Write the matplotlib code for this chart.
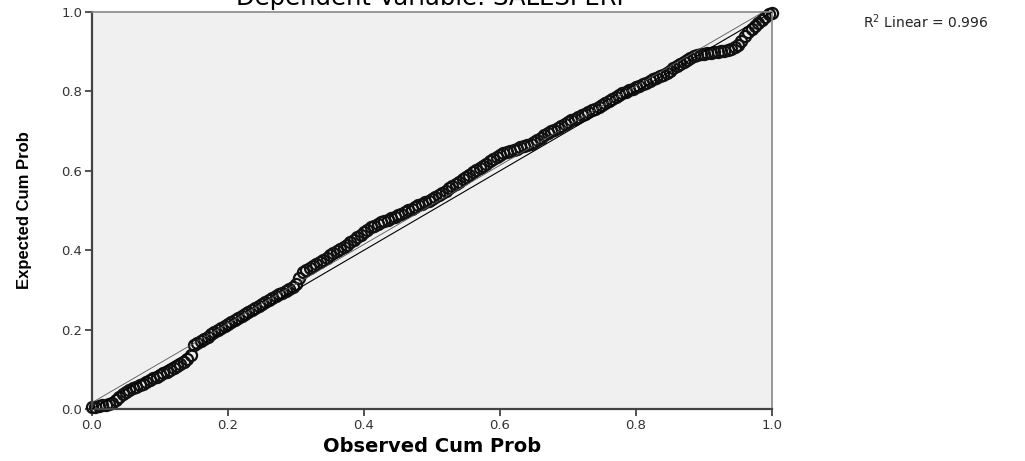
import matplotlib
matplotlib.use("Agg")
import matplotlib.pyplot as plt
import numpy as np

# P-P 플롯 데이터
observed_cum_prob = [
    0.000, 0.005, 0.010, 0.015, 0.020, 0.025, 0.030, 0.035, 0.040, 0.045,
    0.050, 0.055, 0.060, 0.065, 0.070, 0.075, 0.080, 0.085, 0.090, 0.095,
    0.100, 0.105, 0.110, 0.115, 0.120, 0.125, 0.130, 0.135, 0.140, 0.145,
    0.150, 0.155, 0.160, 0.165, 0.170, 0.175, 0.180, 0.185, 0.190, 0.195,
    0.200, 0.205, 0.210, 0.215, 0.220, 0.225, 0.230, 0.235, 0.240, 0.245,
    0.250, 0.255, 0.260, 0.265, 0.270, 0.275, 0.280, 0.285, 0.290, 0.295,
    0.300, 0.305, 0.310, 0.315, 0.320, 0.325, 0.330, 0.335, 0.340, 0.345,
    0.350, 0.355, 0.360, 0.365, 0.370, 0.375, 0.380, 0.385, 0.390, 0.395,
    0.400, 0.405, 0.410, 0.415, 0.420, 0.425, 0.430, 0.435, 0.440, 0.445,
    0.450, 0.455, 0.460, 0.465, 0.470, 0.475, 0.480, 0.485, 0.490, 0.495,
    0.500, 0.505, 0.510, 0.515, 0.520, 0.525, 0.530, 0.535, 0.540, 0.545,
    0.550, 0.555, 0.560, 0.565, 0.570, 0.575, 0.580, 0.585, 0.590, 0.595,
    0.600, 0.605, 0.610, 0.615, 0.620, 0.625, 0.630, 0.635, 0.640, 0.645,
    0.650, 0.655, 0.660, 0.665, 0.670, 0.675, 0.680, 0.685, 0.690, 0.695,
    0.700, 0.705, 0.710, 0.715, 0.720, 0.725, 0.730, 0.735, 0.740, 0.745,
    0.750, 0.755, 0.760, 0.765, 0.770, 0.775, 0.780, 0.785, 0.790, 0.795,
    0.800, 0.805, 0.810, 0.815, 0.820, 0.825, 0.830, 0.835, 0.840, 0.845,
    0.850, 0.855, 0.860, 0.865, 0.870, 0.875, 0.880, 0.885, 0.890, 0.895,
    0.900, 0.905, 0.910, 0.915, 0.920, 0.925, 0.930, 0.935, 0.940, 0.945,
    0.950, 0.955, 0.960, 0.965, 0.970, 0.975, 0.980, 0.985, 0.990, 0.995,
    1.000,
]
expected_cum_prob = [
    0.005, 0.006, 0.008, 0.009, 0.010, 0.012, 0.015, 0.022, 0.030, 0.038,
    0.043, 0.048, 0.052, 0.056, 0.060, 0.064, 0.068, 0.073, 0.077, 0.081,
    0.085, 0.090, 0.094, 0.098, 0.103, 0.108, 0.113, 0.118, 0.125, 0.135,
    0.160, 0.167, 0.172, 0.177, 0.182, 0.188, 0.193, 0.199, 0.204, 0.209,
    0.214, 0.219, 0.224, 0.229, 0.234, 0.240, 0.245, 0.250, 0.255, 0.260,
    0.265, 0.270, 0.275, 0.280, 0.285, 0.289, 0.293, 0.297, 0.302, 0.307,
    0.315, 0.330, 0.345, 0.351, 0.356, 0.361, 0.366, 0.370, 0.375, 0.381,
    0.387, 0.393, 0.398, 0.403, 0.408, 0.414, 0.420, 0.426, 0.432, 0.438,
    0.445, 0.452, 0.458, 0.462, 0.466, 0.470, 0.473, 0.477, 0.480, 0.484,
    0.488, 0.492, 0.496, 0.500, 0.504, 0.508, 0.513, 0.517, 0.521, 0.525,
    0.530, 0.535, 0.540, 0.545, 0.550, 0.556, 0.562, 0.567, 0.573, 0.579,
    0.585, 0.590, 0.596, 0.601, 0.607, 0.612, 0.618, 0.624, 0.630, 0.636,
    0.641, 0.645, 0.648, 0.651, 0.653, 0.656, 0.659, 0.662, 0.665, 0.668,
    0.672, 0.677, 0.683, 0.689, 0.694, 0.699, 0.704, 0.709, 0.713, 0.718,
    0.722, 0.727, 0.731, 0.736, 0.740, 0.744, 0.748, 0.752, 0.756, 0.760,
    0.765, 0.770, 0.775, 0.781, 0.786, 0.791, 0.795, 0.799, 0.803, 0.806,
    0.810, 0.814, 0.818, 0.822, 0.826, 0.830, 0.834, 0.838, 0.842, 0.847,
    0.852, 0.858, 0.864, 0.870, 0.875, 0.880, 0.884, 0.888, 0.892, 0.894,
    0.895, 0.896, 0.897, 0.898, 0.899, 0.901, 0.903, 0.905, 0.907, 0.911,
    0.917, 0.928, 0.940, 0.950, 0.958, 0.965, 0.972, 0.980, 0.988, 0.994,
    0.998,
]
ticks = [0.0, 0.2, 0.4, 0.6, 0.8, 1.0]
tick_labels = ["0.0", "0.2", "0.4", "0.6", "0.8", "1.0"]
title = "Dependent Variable: SALESPERI"
r2_text = r"R$^2$ Linear = 0.996"

fig = plt.figure(figsize=(10.25, 4.61), dpi=100)
ax = fig.add_axes([92 / 1025, 1 - 409 / 461, 680 / 1025, 397 / 461])
ax.set_facecolor("#f0f0f0")

# 산점도 (빈 원, 촘촘하게 겹침)
ax.plot(observed_cum_prob, expected_cum_prob, linestyle="none", marker="o",
        markersize=8, markerfacecolor="none", markeredgecolor="#111111",
        markeredgewidth=1.6, clip_on=False, zorder=2)

# 기준선과 적합선
ax.plot([0, 1], [0, 1], color="black", linewidth=0.8, zorder=3)
slope, intercept = np.polyfit(observed_cum_prob, expected_cum_prob, 1)
ax.plot([0, 1], [intercept, slope + intercept], color="#555555", linewidth=0.6, zorder=3)

ax.set_xlim(0, 1)
ax.set_ylim(0, 1)
ax.set_xticks(ticks)
ax.set_xticklabels(tick_labels)
ax.set_yticks(ticks)
ax.set_yticklabels(tick_labels)
ax.tick_params(direction="out", length=5, width=1.3, color="#444444",
               labelsize=9.5, labelcolor="#333333", pad=2)

for side in ["left", "bottom"]:
    ax.spines[side].set_color("#444444")
    ax.spines[side].set_linewidth(1.6)
for side in ["top", "right"]:
    ax.spines[side].set_color("#888888")
    ax.spines[side].set_linewidth(1.2)

ax.set_xlabel("Observed Cum Prob", fontsize=14, fontweight="bold", labelpad=4)
ax.set_ylabel("Expected Cum Prob", fontsize=12, fontweight="bold",
              family=["Liberation Sans", "DejaVu Sans"], labelpad=21)

fig.text(430 / 1025, 1 - 5 / 461, title, ha="center", va="baseline", fontsize=17.5)
fig.text(863 / 1025, 1 - 22 / 461, r2_text, ha="left", va="center", fontsize=10,
         color="#222222")

fig.savefig("out.png", dpi=100)
